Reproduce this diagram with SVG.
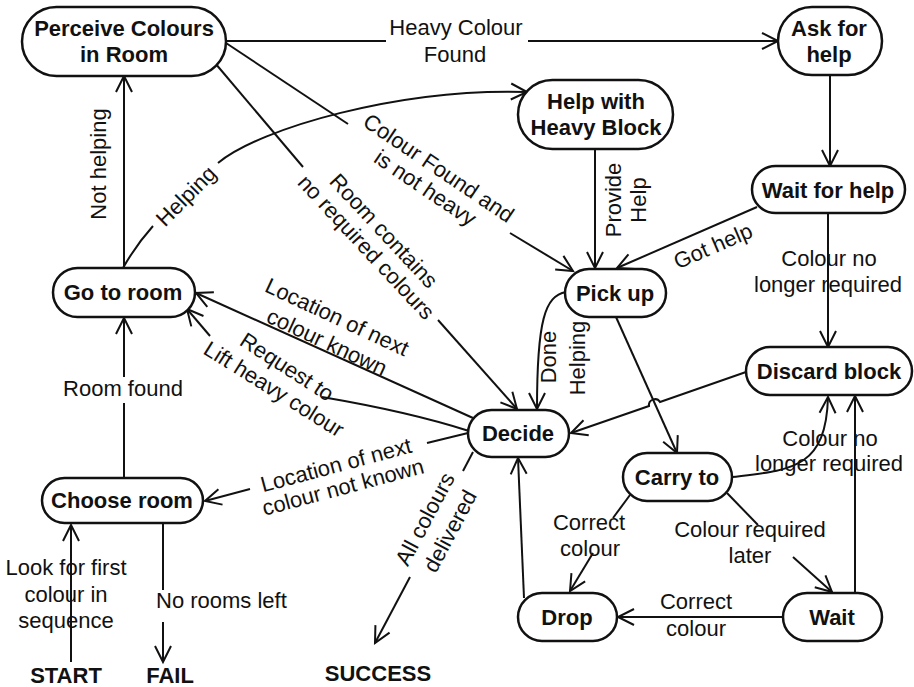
<svg xmlns="http://www.w3.org/2000/svg" width="914" height="687" viewBox="0 0 914 687">
<defs>
<style>
.node rect{fill:#fff;stroke:#111;stroke-width:2.5}
.nt{font-family:"Liberation Sans",Arial,sans-serif;font-weight:bold;font-size:22px;text-anchor:middle;dominant-baseline:central;fill:#111}
.el{font-family:"Liberation Sans",Arial,sans-serif;font-size:22px;text-anchor:middle;dominant-baseline:central;fill:#111}
.edge{fill:none;stroke:#111;stroke-width:2}
</style>
<marker id="arr" viewBox="-18 -9 20 18" refX="0" refY="0" markerWidth="20" markerHeight="18" markerUnits="userSpaceOnUse" orient="auto" overflow="visible">
<path d="M-16,-8 L0,0 L-16,8" fill="none" stroke="#111" stroke-width="2"/>
</marker>
</defs>
<rect width="914" height="687" fill="#fff"/>

<g id="connectors">
<!-- Perceive -> Ask for help -->
<path class="edge" d="M226 41 H386"/>
<path class="edge" d="M528 41 H778" marker-end="url(#arr)"/>
<text class="el" x="456" y="27">Heavy Colour</text>
<text class="el" x="455" y="54">Found</text>
<!-- Ask -> Wait for help -->
<path class="edge" d="M830 75 V166" marker-end="url(#arr)"/>
<!-- Wait for help -> Pick up -->
<path class="edge" d="M757 207 L617 268" marker-end="url(#arr)"/>
<text class="el" transform="translate(713,246) rotate(-23.5)">Got help</text>
<!-- Help with heavy -> Pick up -->
<path class="edge" d="M595 149 V268" marker-end="url(#arr)"/>
<text class="el" transform="translate(613,200) rotate(-90)">Provide</text>
<text class="el" transform="translate(638,200) rotate(-90)">Help</text>
<!-- Perceive -> Pick up -->
<path class="edge" d="M226 43 L348 124"/>
<path class="edge" d="M510 233 L573 271" marker-end="url(#arr)"/>
<g transform="translate(432,178) rotate(34)">
<text class="el" y="-12">Colour Found and</text>
<text class="el" y="12">is not heavy</text>
</g>
<!-- Perceive -> Decide -->
<path class="edge" d="M215 63 L303 167"/>
<path class="edge" d="M438 320 L517 409" marker-end="url(#arr)"/>
<g transform="translate(375,239) rotate(47)">
<text class="el" y="-12">Room contains</text>
<text class="el" y="12">no required colours</text>
</g>
<!-- Decide -> Go to room (location known) -->
<path class="edge" d="M473 418 L196 293" marker-end="url(#arr)"/>
<text class="el" transform="translate(337,317) rotate(25)">Location of next</text>
<text class="el" transform="translate(327,342) rotate(25)">colour known</text>
<!-- Decide -> Go to room (request) -->
<path class="edge" d="M469 431 Q410 412 322 397"/>
<path class="edge" d="M210 336 L187 309" marker-end="url(#arr)"/>
<text class="el" transform="translate(287,367) rotate(33)">Request to</text>
<text class="el" transform="translate(274,389) rotate(32)">Lift heavy colour</text>
<!-- Decide -> Choose room -->
<path class="edge" d="M468 433 L427 443"/>
<path class="edge" d="M250 489 L205 501" marker-end="url(#arr)"/>
<text class="el" transform="translate(336,465) rotate(-15)">Location of next</text>
<text class="el" transform="translate(343,487) rotate(-15)">colour not known</text>
<!-- Decide -> SUCCESS -->
<path class="edge" d="M473 452 L463 471"/>
<path class="edge" d="M410 577 L375 643" marker-end="url(#arr)"/>
<text class="el" transform="translate(425,519) rotate(-62)">All colours</text>
<text class="el" transform="translate(450,531) rotate(-62)">delivered</text>
<!-- Pick up -> Decide -->
<path class="edge" d="M566 292 C545 296 537 320 537 409" marker-end="url(#arr)"/>
<text class="el" transform="translate(548,357) rotate(-90)">Done</text>
<text class="el" transform="translate(577,358) rotate(-90)">Helping</text>
<!-- Pick up -> Carry to -->
<path class="edge" d="M616 317 L677 453" marker-end="url(#arr)"/>
<!-- Discard -> Decide -->
<path class="edge" d="M746 372 L660 402 A6 6 0 0 0 649 406 L571 433" marker-end="url(#arr)"/>
<!-- Wait for help -> Discard -->
<path class="edge" d="M828 213 V347" marker-end="url(#arr)"/>
<text class="el" x="829" y="258">Colour no</text>
<text class="el" x="828" y="284">longer required</text>
<!-- Carry to -> Discard -->
<path class="edge" d="M732 477 C790 470 826 470 828 397" marker-end="url(#arr)"/>
<!-- Wait -> Discard -->
<path class="edge" d="M855 593 V396" marker-end="url(#arr)"/>
<text class="el" x="830" y="438">Colour no</text>
<text class="el" x="829" y="463">longer required</text>
<!-- Carry to -> Drop -->
<path class="edge" d="M630 495 L613 518"/>
<path class="edge" d="M593 553 L570 591" marker-end="url(#arr)"/>
<text class="el" x="589" y="522">Correct</text>
<text class="el" x="590" y="548">colour</text>
<!-- Carry to -> Wait -->
<path class="edge" d="M727 493 L758 525"/>
<path class="edge" d="M793 557 L832 592" marker-end="url(#arr)"/>
<text class="el" x="750" y="529">Colour required</text>
<text class="el" x="750" y="555">later</text>
<!-- Wait -> Drop -->
<path class="edge" d="M783 617 L618 617" marker-end="url(#arr)"/>
<text class="el" x="696" y="601">Correct</text>
<text class="el" x="696" y="628">colour</text>
<!-- Drop -> Decide -->
<path class="edge" d="M524 598 L518 458" marker-end="url(#arr)"/>
<!-- Choose room -> Go to room -->
<path class="edge" d="M124 478 V403"/>
<path class="edge" d="M124 377 V318" marker-end="url(#arr)"/>
<text class="el" x="123" y="388">Room found</text>
<!-- Go to room -> Perceive -->
<path class="edge" d="M124 268 V76" marker-end="url(#arr)"/>
<text class="el" transform="translate(98,164) rotate(-90)">Not helping</text>
<!-- Go to room -> Help with heavy -->
<path class="edge" d="M123 268 Q136 245 153 226"/>
<path class="edge" d="M218 163 C260 128 400 88 527 92" marker-end="url(#arr)"/>
<text class="el" transform="translate(186,196) rotate(-45)">Helping</text>
<!-- START -> Choose room -->
<path class="edge" d="M71 662 V525" marker-end="url(#arr)"/>
<text class="el" x="66" y="567">Look for first</text>
<text class="el" x="66" y="594">colour in</text>
<text class="el" x="66" y="620">sequence</text>
<!-- Choose room -> FAIL -->
<path class="edge" d="M163 523 V590"/>
<path class="edge" d="M163 622 V662" marker-end="url(#arr)"/>
<text class="el" x="156" y="600" style="text-anchor:start">No rooms left</text>
</g>

<g id="perceive" class="node"><rect x="22" y="7" width="204" height="69" rx="34.5"/><text class="nt" x="124" y="28">Perceive Colours</text><text class="nt" x="124" y="54">in Room</text></g>
<g id="ask" class="node"><rect x="778" y="7" width="104" height="68" rx="34"/><text class="nt" x="829" y="28">Ask for</text><text class="nt" x="829" y="54">help</text></g>
<g id="helpHeavy" class="node"><rect x="518" y="80" width="155" height="69" rx="34.5"/><text class="nt" x="596" y="101">Help with</text><text class="nt" x="596" y="127">Heavy Block</text></g>
<g id="waitHelp" class="node"><rect x="752" y="166" width="153" height="47" rx="23.5"/><text class="nt" x="828" y="190">Wait for help</text></g>
<g id="goRoom" class="node"><rect x="53" y="268" width="142" height="49" rx="24.5"/><text class="nt" x="123" y="292">Go to room</text></g>
<g id="pickUp" class="node"><rect x="565" y="269" width="101" height="48" rx="24"/><text class="nt" x="615" y="293">Pick up</text></g>
<g id="discard" class="node"><rect x="746" y="347" width="166" height="48" rx="24"/><text class="nt" x="829" y="371">Discard block</text></g>
<g id="decide" class="node"><rect x="468" y="410" width="101" height="47" rx="23.5"/><text class="nt" x="518" y="433">Decide</text></g>
<g id="carry" class="node"><rect x="623" y="453" width="109" height="48" rx="24"/><text class="nt" x="677" y="477">Carry to</text></g>
<g id="drop" class="node"><rect x="518" y="593" width="99" height="48" rx="24"/><text class="nt" x="567" y="617">Drop</text></g>
<g id="wait" class="node"><rect x="783" y="593" width="99" height="48" rx="24"/><text class="nt" x="832" y="617">Wait</text></g>
<g id="choose" class="node"><rect x="42" y="478" width="161" height="45" rx="22.5"/><text class="nt" x="122" y="500">Choose room</text></g>

<g id="start"><text class="nt" x="66" y="675">START</text></g>
<g id="fail"><text class="nt" x="170" y="675">FAIL</text></g>
<g id="success"><text class="nt" x="378" y="673">SUCCESS</text></g>
</svg>
